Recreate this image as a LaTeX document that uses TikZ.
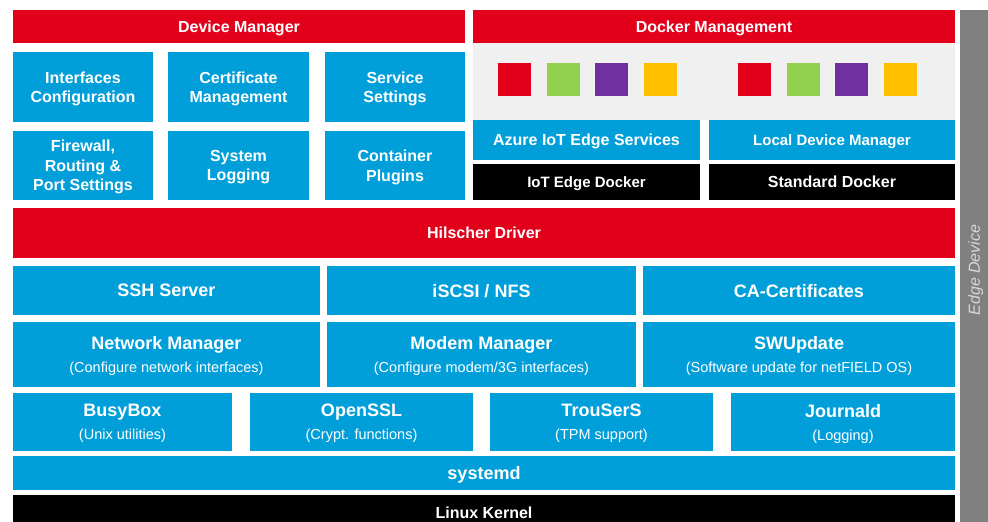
\documentclass[tikz,border=0pt]{standalone}
\usepackage{fontspec}
\setmainfont{Liberation Sans}
\usepackage{tikz}
\usetikzlibrary{calc}

\definecolor{hred}{RGB}{226,0,26}
\definecolor{hblue}{RGB}{0,159,218}
\definecolor{hgreen}{RGB}{146,208,80}
\definecolor{hpurple}{RGB}{112,48,160}
\definecolor{hyellow}{RGB}{255,192,0}
\definecolor{hgray}{RGB}{240,240,240}
\definecolor{edgegray}{RGB}{128,128,128}
\definecolor{edgetext}{RGB}{215,215,215}

\newcommand{\subtxt}{\fontsize{14.5}{21}\selectfont\mdseries}

\begin{document}
\begin{tikzpicture}[x=1pt,y=-1pt,
  box/.style={inner sep=0pt,outer sep=0pt,text=white,align=center,text depth=0pt},
  redbar/.style={box,fill=hred,font=\fontsize{16}{19.5}\selectfont\bfseries},
  smallbox/.style={box,fill=hblue,font=\fontsize{16}{19.5}\selectfont\bfseries},
  bigbox/.style={box,fill=hblue,font=\fontsize{18}{21}\selectfont\bfseries},
  blackbar/.style={box,fill=black,font=\fontsize{16}{19.5}\selectfont\bfseries},
  sq/.style={inner sep=0pt,outer sep=0pt,minimum size=33}]
\clip (0,0) rectangle (988,522);
\fill[white] (0,0) rectangle (988,522);

% device manager
\node (devmgr) [redbar,minimum width=452,minimum height=33] at (239,26.5) {Device Manager};
\node (ifconf) [smallbox,minimum width=140,minimum height=70] at (83,87) {Interfaces\\Configuration};
\node (certmgmt) [smallbox,minimum width=141,minimum height=70] at (238.5,87) {Certificate\\Management};
\node (servset) [smallbox,minimum width=140,minimum height=70] at (395,87) {Service\\Settings};
\node (firewall) [smallbox,minimum width=140,minimum height=69] at (83,165.5) {Firewall,\\Routing \&\\Port Settings};
\node (syslog) [smallbox,minimum width=141,minimum height=69] at (238.5,165.5) {System\\Logging};
\node (contplug) [smallbox,minimum width=140,minimum height=69] at (395,165.5) {Container\\Plugins};

% docker management
\node (dockmgmt) [redbar,minimum width=482,minimum height=33] at (714,26.5) {Docker Management};
\node (contarea) [box,fill=hgray,minimum width=482,minimum height=77] at (714,81.5) {};
\foreach \c [count=\i from 0] in {hred,hgreen,hpurple,hyellow} {
  \node (sqa\i) [sq,fill=\c] at (514.5+48.67*\i,79.5) {};
  \node (sqb\i) [sq,fill=\c] at (754.5+48.67*\i,79.5) {};
}
\node (azure) [smallbox,minimum width=227,minimum height=40] at (586.5,140) {Azure IoT Edge Services};
\node (localdm) [smallbox,font=\fontsize{15}{18}\selectfont\bfseries,minimum width=246,minimum height=40] at (832,140) {Local Device Manager};
\node (iotdock) [blackbar,font=\fontsize{15}{18}\selectfont\bfseries,minimum width=227,minimum height=36] at (586.5,182) {IoT Edge Docker};
\node (stddock) [blackbar,minimum width=246,minimum height=36] at (832,182) {Standard Docker};

% os layers
\node (hilscher) [redbar,minimum width=942,minimum height=50] at (484,233) {Hilscher Driver};
\node (ssh) [bigbox,minimum width=307,minimum height=49] at (166.5,290.5) {SSH Server};
\node (iscsi) [bigbox,minimum width=309,minimum height=49] at (481.5,290.5) {iSCSI / NFS};
\node (cacert) [bigbox,minimum width=312,minimum height=49] at (799,290.5) {CA-Certificates};
\node (netmgr) [bigbox,minimum width=307,minimum height=65] at (166.5,354.5) {Network Manager\\[1.5pt]{\subtxt (Configure network interfaces)}};
\node (modem) [bigbox,minimum width=309,minimum height=65] at (481.5,354.5) {Modem Manager\\[1.5pt]{\subtxt (Configure modem/3G interfaces)}};
\node (swupd) [bigbox,minimum width=312,minimum height=65] at (799,354.5) {SWUpdate\\[1.5pt]{\subtxt (Software update for netFIELD OS)}};
\node (busybox) [bigbox,minimum width=219,minimum height=58] at (122.5,422) {BusyBox\\[2pt]{\subtxt (Unix utilities)}};
\node (openssl) [bigbox,minimum width=223,minimum height=58] at (361.5,422) {OpenSSL\\[2pt]{\subtxt (Crypt. functions)}};
\node (trousers) [bigbox,minimum width=223,minimum height=58] at (601.5,422) {TrouSerS\\[2pt]{\subtxt (TPM support)}};
\node (journald) [bigbox,minimum width=224,minimum height=58] at (843,422) {Journald\\[2pt]{\subtxt (Logging)}};
\node (systemd) [bigbox,minimum width=942,minimum height=34] at (484,473) {systemd};
\node (kernel) [blackbar,minimum width=942,minimum height=35] at (484,512.5) {Linux Kernel};

% edge device
\node (edge) [box,fill=edgegray,text=edgetext,rotate=90,minimum width=520,minimum height=28,
  font=\fontsize{16}{19}\selectfont\itshape] at (974,270) {Edge Device};
\end{tikzpicture}
\end{document}
